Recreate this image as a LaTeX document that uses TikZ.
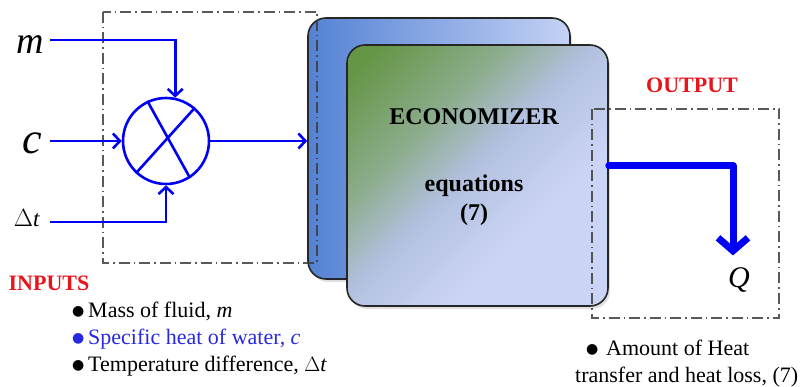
\documentclass[tikz,border=0pt]{standalone}
\usepackage{fontspec}
\setmainfont{Liberation Serif}
\newfontfamily\symfnt{DejaVu Sans}
\usetikzlibrary{arrows.meta,shadows}
\definecolor{lineblue}{RGB}{0,0,245}
\definecolor{txtblue}{RGB}{40,40,225}
\definecolor{titlered}{RGB}{232,20,28}
\definecolor{dashgray}{RGB}{60,60,60}
\definecolor{backL}{RGB}{84,130,212}
\definecolor{backR}{RGB}{196,210,244}
\definecolor{fGreen}{RGB}{100,150,70}
\definecolor{fGreenB}{RGB}{140,172,140}
\definecolor{fMid}{RGB}{178,192,222}
\definecolor{fLav}{RGB}{204,212,245}
\pgfdeclareverticalshading{frontshade}{100bp}{color(0bp)=(fLav); color(36bp)=(fLav); color(52bp)=(fMid); color(64bp)=(fGreenB); color(81bp)=(fGreen); color(100bp)=(fGreen)}
\begin{document}
\begin{tikzpicture}[x=1pt,y=-1pt,
  blueline/.style={draw=lineblue,line width=2.6pt},
  tipv/.style={-{Straight Barb[length=7pt,width=15pt]}},
  bigarrow/.style={draw=lineblue,line width=7pt,line join=round,line cap=round,
    -{Straight Barb[length=13pt,width=30pt]}},
  dashbox/.style={draw=dashgray,line width=1.3pt,
    dash pattern=on 11pt off 4pt on 1.5pt off 4pt},
  panel/.style={draw=black!85,line width=1.6pt,rounded corners=18pt,inner sep=0pt,
    drop shadow={shadow xshift=2pt,shadow yshift=-3pt,opacity=0.25}},
  bigtxt/.style={font=\fontsize{24}{26}\selectfont\bfseries},
  body/.style={font=\fontsize{22}{24}\selectfont,anchor=base west,inner sep=0pt},
  title/.style={font=\fontsize{22}{24}\selectfont\bfseries,text=titlered,inner sep=0pt}
]
\useasboundingbox (0,0) rectangle (811,387);
\newcommand{\bigbul}{\raisebox{1.5pt}{\symfnt\fontsize{14}{14}\selectfont ●}}

% economizer panels
\node[panel,minimum width=262pt,minimum height=261pt,
  left color=backL,right color=backR] (back) at (439,148.5) {};
\node[panel,minimum width=261pt,minimum height=261pt,
  shading=frontshade,shading angle=45] (front) at (477.5,175.5) {};
\node[bigtxt] (econ) at (474,117) {ECONOMIZER};
\node[bigtxt] (eqn) at (474,186) {equations};
\node[bigtxt] (eqnum) at (474,215) {(7)};

% dashed boxes
\draw[dashbox,opacity=0.85] (103,12) rectangle (317,263);
\draw[dashbox,opacity=0.85] (592,109) rectangle (779,318);

% input labels
\node[font=\fontsize{38}{40}\selectfont\itshape,inner sep=0pt] (mlab) at (30,45) {m};
\node[font=\fontsize{44}{46}\selectfont\itshape,inner sep=0pt] (clab) at (32,143) {c};
\node[font=\fontsize{23}{25}\selectfont,inner sep=0pt] (dlab) at (27,218) {$\Delta$\textit{t}};

% multiplier
\node[circle,draw=lineblue,line width=2.6pt,minimum size=86pt,inner sep=0pt] (mult) at (166,141) {};
\draw[blueline] (mult.115) -- (mult.-57);
\draw[blueline] (mult.227) -- (mult.49);

\coordinate (ms) at (50,40);
\coordinate (cs) at (50,141);
\coordinate (ds) at (50,222);
\draw[blueline,tipv] (ms) -| (mult.78);
\draw[blueline,tipv] (cs) -- (mult.west);
\draw[blueline,tipv] (ds) -| (mult.south);
\draw[blueline,tipv] (mult.east) -- (mult.east -| back.west);

% output
\node[font=\fontsize{30}{32}\selectfont\itshape,inner sep=0pt] (Q) at (739,280) {Q};
\draw[bigarrow] ([yshift=9.5pt]front.east) -| ([xshift=-6pt,yshift=12pt]Q.north);

% titles
\node[title] (inputs) at (49,283) {INPUTS};
\node[title] (output) at (692,85) {OUTPUT};

% bullet lists
\node[body] (l1) at (72,317) {\makebox[16pt][l]{\bigbul}Mass of fluid, \textit{m}};
\node[body,text=txtblue] (l2) at (72,344) {\makebox[16pt][l]{\bigbul}Specific heat of water, \textit{c}};
\node[body] (l3) at (72,371) {\makebox[16pt][l]{\bigbul}Temperature difference, $\Delta$\textit{t}};
\node[body] (r1) at (586,355) {\makebox[20pt][l]{\bigbul}Amount of Heat};
\node[body] (r2) at (575,382) {transfer and heat loss, (7)};
\end{tikzpicture}
\end{document}
